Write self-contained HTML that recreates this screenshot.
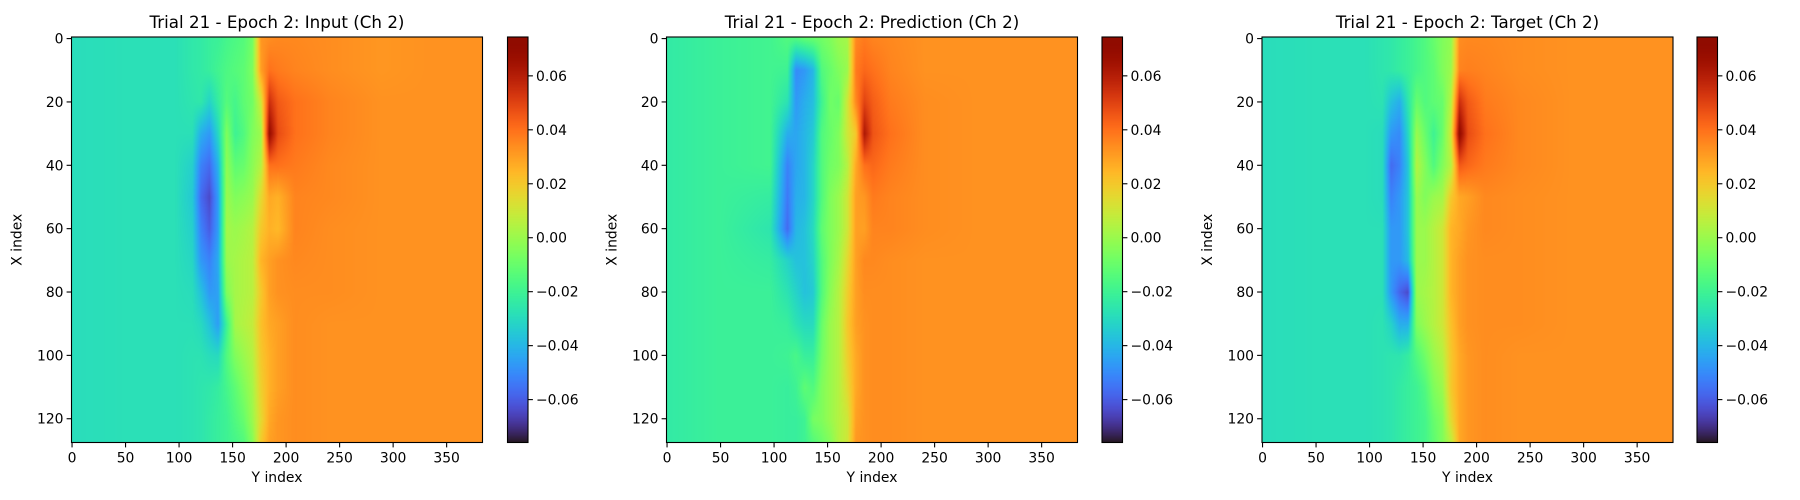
<!DOCTYPE html>
<html><head><meta charset="utf-8"><style>
body{margin:0;background:#fff;width:1800px;height:500px;overflow:hidden;position:relative;font-family:"DejaVu Sans","Liberation Sans",sans-serif}
canvas{position:absolute}
svg{position:absolute;left:0;top:0}
</style></head><body>
<svg id="ov" width="1800" height="500"></svg>
<script>
// data: Y-index column positions of sampled grid, X-index rows, values in 1e-3 units
const gridCols = [0,48,96,112,120,128,136,144,152,160,168,176,184,192,208,240,288,336,384];
const gridRows = [0,10,20,30,40,50,60,70,80,90,100,110,120,128];
const inputValues = [
[-29,-28,-28,-25,-24,-22,-21,-18,-16,-14,-8,32,34,35,35,34,32,33,33],
[-29,-28,-28,-25,-24,-22,-19,-16,-14,-12,-6,30,40,38,36,34,32,33,33],
[-29,-28,-28,-26,-25,-32,-23,-14,-18,-12,-8,10,55,45,40,36,33,33,33],
[-29,-28,-28,-28,-42,-47,-31,-5,-20,-15,-5,0,68,48,40,36,33,33,33],
[-29,-28,-28,-33,-52,-57,-41,-2,-12,-10,-3,5,40,40,38,35,33,33,33],
[-29,-28,-28,-35,-57,-64,-46,0,-5,-3,0,15,28,26,36,35,33,33,33],
[-29,-28,-28,-33,-52,-60,-46,2,0,2,5,20,26,24,36,34,33,33,33],
[-29,-28,-28,-31,-47,-52,-43,0,2,4,6,25,30,33,35,34,33,33,33],
[-29,-28,-28,-29,-37,-47,-45,-5,2,4,6,20,30,33,34,34,33,33,33],
[-29,-28,-28,-28,-30,-37,-46,-20,2,5,8,22,28,30,34,33,33,33,33],
[-29,-28,-28,-27,-27,-29,-30,-15,-5,0,5,20,26,30,34,33,33,33,33],
[-29,-28,-28,-27,-26,-25,-23,-18,-12,-5,2,18,26,30,34,33,33,33,33],
[-29,-28,-28,-27,-26,-24,-22,-20,-15,-10,0,15,28,32,34,33,33,33,33],
[-29,-28,-28,-27,-26,-24,-22,-20,-18,-15,-5,20,30,32,34,33,33,33,33]];
const predictionValues = [
[-24,-21,-19,-15,-15,-12,-10,-8,-5,0,2,35,38,36,35,33,33,33,33],
[-24,-21,-19,-20,-50,-47,-40,-15,-10,-5,0,38,42,40,36,33,33,33,33],
[-24,-21,-19,-27,-47,-42,-38,-20,-8,-10,10,35,50,44,38,34,33,33,33],
[-24,-21,-19,-42,-44,-40,-35,-15,-10,-5,10,20,62,46,40,34,33,33,33],
[-24,-21,-19,-52,-44,-40,-32,-15,-8,-5,5,28,40,42,38,34,33,33,33],
[-24,-21,-23,-54,-42,-40,-32,-15,-5,0,10,30,32,38,36,34,33,33,33],
[-24,-21,-26,-57,-40,-37,-30,-12,-5,0,10,30,30,36,36,34,33,33,33],
[-24,-21,-23,-32,-37,-37,-32,-15,-5,2,15,30,35,35,34,33,33,33,33],
[-24,-21,-21,-27,-32,-37,-35,-15,-3,5,18,30,34,34,34,33,33,33,33],
[-24,-21,-21,-22,-27,-30,-30,-10,0,5,20,30,33,34,34,33,33,33,33],
[-24,-21,-21,-20,-17,-22,-22,-8,0,5,18,28,33,34,34,33,33,33,33],
[-24,-21,-21,-22,-20,-12,-15,-5,0,5,15,28,33,34,34,33,33,33,33],
[-24,-21,-21,-22,-22,-20,-7,-5,0,5,10,30,33,34,34,33,33,33,33],
[-24,-21,-21,-22,-22,-20,-15,-10,-5,5,10,32,33,34,34,33,33,33,33]];
const targetValues = [
[-29,-28,-28,-26,-25,-23,-21,-18,-15,-10,-5,-2,34,35,35,34,33,33,33],
[-29,-28,-28,-26,-25,-23,-21,-18,-15,-12,-5,0,36,37,36,34,33,33,33],
[-29,-28,-28,-27,-37,-42,-26,-10,-15,-12,-10,5,55,45,38,35,33,33,33],
[-29,-28,-28,-29,-47,-50,-31,0,-10,-20,-10,10,70,48,40,35,33,33,33],
[-29,-28,-28,-29,-57,-52,-36,5,-5,-15,-5,5,45,42,38,35,33,33,33],
[-29,-28,-28,-29,-52,-47,-36,0,-5,0,2,20,28,30,35,34,33,33,33],
[-29,-28,-28,-28,-47,-47,-36,0,0,5,10,25,28,32,35,34,33,33,33],
[-29,-28,-28,-28,-47,-47,-39,0,0,5,10,25,30,33,34,34,33,33,33],
[-29,-28,-28,-28,-47,-58,-64,0,2,5,10,25,30,33,34,34,33,33,33],
[-29,-28,-28,-27,-32,-42,-42,-5,0,5,10,22,30,33,34,34,33,33,33],
[-29,-28,-28,-27,-26,-26,-23,-15,-8,0,5,20,28,32,34,33,33,33,33],
[-29,-28,-28,-27,-26,-24,-22,-20,-15,-5,0,20,28,32,34,33,33,33,33],
[-29,-28,-28,-27,-26,-24,-22,-20,-18,-10,-5,15,28,32,34,33,33,33,33],
[-29,-28,-28,-27,-26,-24,-22,-20,-18,-12,-5,5,28,32,34,33,33,33,33]];
const panelTitles = ["Trial 21 - Epoch 2: Input (Ch 2)","Trial 21 - Epoch 2: Prediction (Ch 2)","Trial 21 - Epoch 2: Target (Ch 2)"];
const xTicks = [0,50,100,150,200,250,300,350];
const yTicks = [0,20,40,60,80,100,120];
const cbTicks = [0.06,0.04,0.02,0.00,-0.02,-0.04,-0.06];
const vmin = -0.0759, vmax = 0.0744;

const panels = [
 {name:"input", vals:inputValues, left:71.5, cbLeft:507.5},
 {name:"prediction", vals:predictionValues, left:666.5, cbLeft:1102},
 {name:"target", vals:targetValues, left:1262, cbLeft:1697}];
const TOP=37, W=411, H=405.5, CBW=20.5;

function turbo(x){x=Math.max(0,Math.min(1,x));
 const r=0.13572138+x*(4.61539260+x*(-42.66032258+x*(132.13108234+x*(-152.94239396+x*59.28637943))));
 const g=0.09140261+x*(2.19418839+x*(4.84296658+x*(-14.18503333+x*(4.27729857+x*2.82956604))));
 const b=0.10667330+x*(12.64194608+x*(-60.58204836+x*(110.36276771+x*(-89.90310912+x*27.34824973))));
 const c=v=>Math.round(255*Math.max(0,Math.min(1,v)));return [c(r),c(g),c(b)];}
function seg(arr,v){let i=0;while(i<arr.length-2&&v>arr[i+1])i++;const t=Math.max(0,Math.min(1,(v-arr[i])/(arr[i+1]-arr[i])));return [i,t];}
function sample(vals,xi,yi){const [r,tr]=seg(gridRows,xi),[c,tc]=seg(gridCols,yi);
 const a=vals[r][c],b=vals[r][c+1],d=vals[r+1][c],e=vals[r+1][c+1];
 return ((a*(1-tc)+b*tc)*(1-tr)+(d*(1-tc)+e*tc)*tr)/1000;}
const xScale=(p,y)=>p.left+(y+0.5)/384*W;
const yScale=x=>TOP+(x+0.5)/128*H;
const cbScale=v=>TOP+(vmax-v)/(vmax-vmin)*H;

const ov=document.getElementById('ov');const NS="http://www.w3.org/2000/svg";
function el(tag,attrs,txt){const e=document.createElementNS(NS,tag);for(const k in attrs)e.setAttribute(k,attrs[k]);if(txt!==undefined)e.textContent=txt;ov.appendChild(e);return e;}

panels.forEach((p,pi)=>{
 const cv=document.createElement('canvas');
 
 
 const w=Math.round(W),h=Math.round(H);cv.width=w;cv.height=h;
 cv.style.left=p.left+'px';cv.style.top=TOP+'px';cv.style.width=W+'px';cv.style.height=H+'px';
 const ctx=cv.getContext('2d');const img=ctx.createImageData(w,h);
 for(let j=0;j<h;j++)for(let i=0;i<w;i++){
  const yi=(i+0.5)/w*384-0.5, xi=(j+0.5)/h*128-0.5;
  const v=sample(p.vals,xi,yi);const col=turbo((v-vmin)/(vmax-vmin));
  const k=(j*w+i)*4;img.data[k]=col[0];img.data[k+1]=col[1];img.data[k+2]=col[2];img.data[k+3]=255;}
 ctx.putImageData(img,0,0);document.body.insertBefore(cv,ov);
 const cb=document.createElement('canvas');
 
 
 cb.width=20;cb.height=h;cb.style.left=p.cbLeft+'px';cb.style.top=TOP+'px';cb.style.width=CBW+'px';cb.style.height=H+'px';
 const c2=cb.getContext('2d');
 for(let j=0;j<h;j++){const col=turbo(1-(j+0.5)/h);c2.fillStyle=`rgb(${col})`;c2.fillRect(0,j,20,1);}
 document.body.insertBefore(cb,ov);

 const g=el('g',{});
 
 
 const t=el('text',{x:p.left+W/2,y:28,'text-anchor':'middle','font-size':'16.7',fill:'#000'},panelTitles[pi]);
 
 
 const fr=el('rect',{x:p.left,y:TOP,width:W,height:H,fill:'none',stroke:'#000','stroke-width':1.1});
 
 
 const cfr=el('rect',{x:p.cbLeft,y:TOP,width:CBW,height:H,fill:'none',stroke:'#000','stroke-width':1.1});
 
 
 xTicks.forEach(v=>{const x=xScale(p,v);
  const l=el('line',{x1:x,x2:x,y1:TOP+H,y2:TOP+H+4.9,stroke:'#000','stroke-width':1.1});
  
  
  const tx=el('text',{x:x,y:TOP+H+20,'text-anchor':'middle','font-size':'13.9'},String(v));
  
  });
 yTicks.forEach(v=>{const y=yScale(v);
  const l=el('line',{x1:p.left-4.9,x2:p.left,y1:y,y2:y,stroke:'#000','stroke-width':1.1});
  
  
  const tx=el('text',{x:p.left-8,y:y+5,'text-anchor':'end','font-size':'13.9'},String(v));
  
  });
 cbTicks.forEach(v=>{const y=cbScale(v);
  const l=el('line',{x1:p.cbLeft+CBW,x2:p.cbLeft+CBW+4.9,y1:y,y2:y,stroke:'#000','stroke-width':1.1});
  
  
  const s=(v<0?'\u2212':'')+Math.abs(v).toFixed(2);
  const tx=el('text',{x:p.cbLeft+CBW+8,y:y+5,'font-size':'13.9'},s);
  
  });
 const xl=el('text',{x:p.left+W/2,y:482,'text-anchor':'middle','font-size':'13.9'},'Y index');
 
 
 const yx=p.left-50, yy=TOP+H/2;
 const yl=el('text',{x:yx,y:yy,'text-anchor':'middle','font-size':'13.9',transform:`rotate(-90 ${yx} ${yy})`},'X index');
 
 
});
</script>
</body></html>
